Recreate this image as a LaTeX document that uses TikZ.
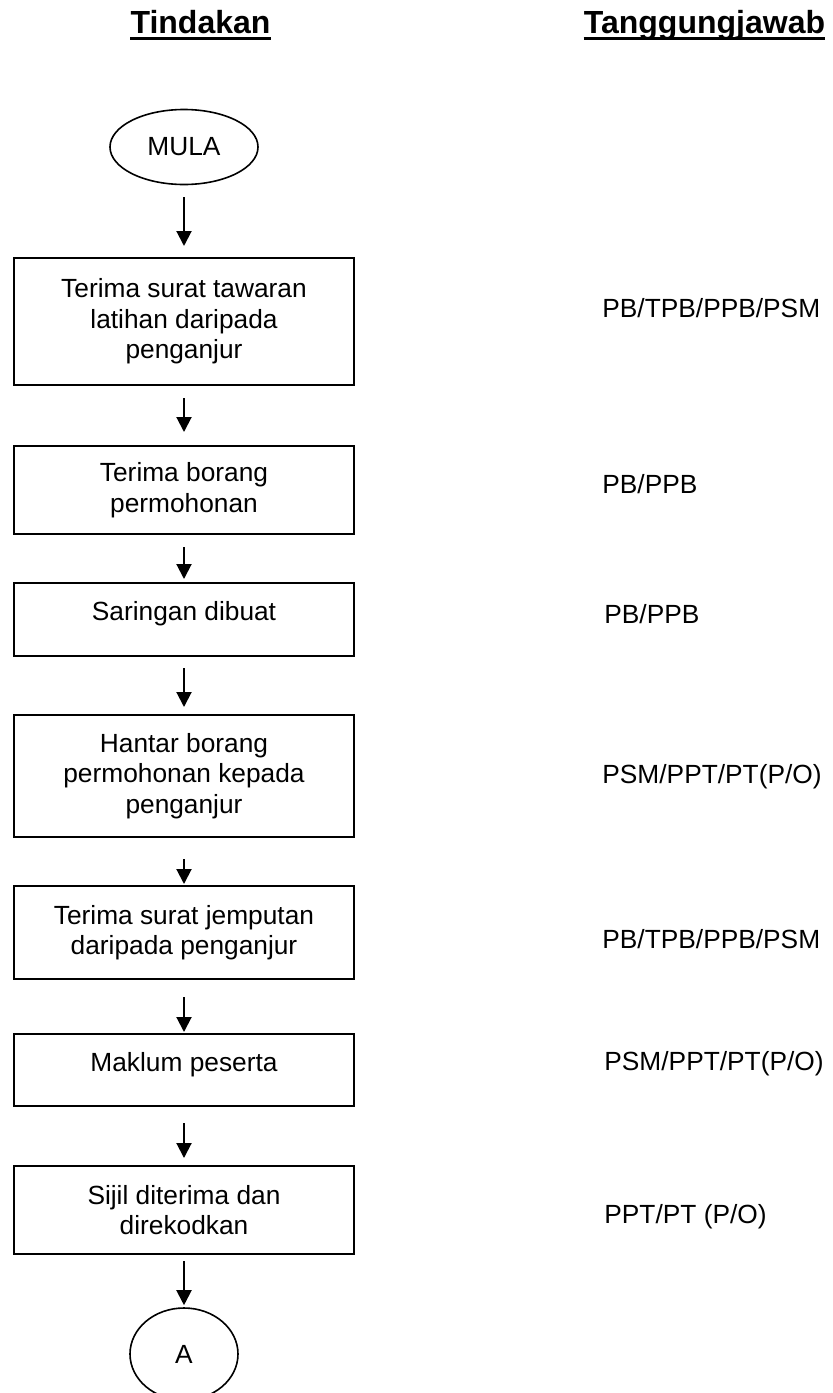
\documentclass[tikz,border=0pt]{standalone}
\usepackage{fontspec}
\setmainfont{Liberation Sans}
\usetikzlibrary{shapes.geometric,arrows.meta}
\begin{document}
\begin{tikzpicture}[x=0.5pt, y=-0.5pt,
    box/.style={draw, line width=1pt, minimum width=170pt, inner sep=0pt,
                align=center, font=\fontsize{13.15}{15.2}\selectfont},
    term/.style={draw, ellipse, line width=0.8pt, inner sep=0pt,
                 font=\fontsize{13.15}{15.2}\selectfont},
    resp/.style={anchor=base west, inner sep=0pt,
                 font=\fontsize{13.15}{15.2}\selectfont},
    head/.style={anchor=base, inner sep=0pt,
                 font=\fontsize{16}{19}\selectfont\bfseries},
    flow/.style={-{Triangle[length=7.5pt,width=7.5pt]}, line width=1pt}]
	\useasboundingbox (0,0) rectangle (832,1393);
	% headings
	\node[head] (tind) at (200.5,33) {Tindakan};
	\node[head] (tang) at (704.5,33) {Tanggungjawab};
	\draw[line width=1.5pt] ([yshift=-2.5pt]tind.base west) -- ([yshift=-2.5pt]tind.base east);
	\draw[line width=1.5pt] ([yshift=-2.5pt]tang.base west) -- ([yshift=-2.5pt]tang.base east);
	% tindakan
	\node[term, minimum width=74pt, minimum height=37.5pt] (mula) at (184,147) {MULA};
	\node[box, minimum height=63.5pt] (t1) at (184,321.5) {Terima surat tawaran\\latihan daripada\\penganjur};
	\node[box, minimum height=44pt] (t2) at (184,490) {Terima borang\\permohonan};
	\node[box, minimum height=36.5pt, text height=10pt, text depth=9pt] (t3) at (184,619.5) {Saringan dibuat};
	\node[box, minimum height=61pt] (t4) at (184,776) {Hantar borang\\permohonan kepada\\penganjur};
	\node[box, minimum height=46.5pt] (t5) at (184,932.5) {Terima surat jemputan\\daripada penganjur};
	\node[box, minimum height=36pt, text height=10pt, text depth=9pt] (t6) at (184,1070) {Maklum peserta};
	\node[box, minimum height=44pt] (t7) at (184,1210) {Sijil diterima dan\\direkodkan};
	\node[term, minimum width=54pt, minimum height=46pt] (conA) at (184,1354) {A};
	% tanggungjawab
	\node[resp] (r1) at (602,317) {PB/TPB/PPB/PSM};
	\node[resp] (r2) at (602,493) {PB/PPB};
	\node[resp] (r3) at (604,623) {PB/PPB};
	\node[resp] (r4) at (602,783) {PSM/PPT/PT(P/O)};
	\node[resp] (r5) at (602,948) {PB/TPB/PPB/PSM};
	\node[resp] (r6) at (604,1070) {PSM/PPT/PT(P/O)};
	\node[resp] (r7) at (604,1223) {PPT/PT (P/O)};
	% aliran
	\path[flow] (mula) edge[shorten <=6pt, shorten >=5.5pt] (t1);
	\path[flow] (t1)   edge[shorten <=6pt, shorten >=6.5pt] (t2);
	\path[flow] (t2)   edge[shorten <=6pt, shorten >=1.5pt] (t3);
	\path[flow] (t3)   edge[shorten <=5.5pt, shorten >=3.5pt] (t4);
	\path[flow] (t4)   edge[shorten <=10.5pt, shorten >=0.5pt] (t5);
	\path[flow] (t5)   edge[shorten <=8.5pt, shorten >=0.5pt] (t6);
	\path[flow] (t6)   edge[shorten <=8pt, shorten >=3.5pt] (t7);
	\path[flow] (t7)   edge[shorten <=3pt, shorten >=1pt] (conA);
\end{tikzpicture}
\end{document}
